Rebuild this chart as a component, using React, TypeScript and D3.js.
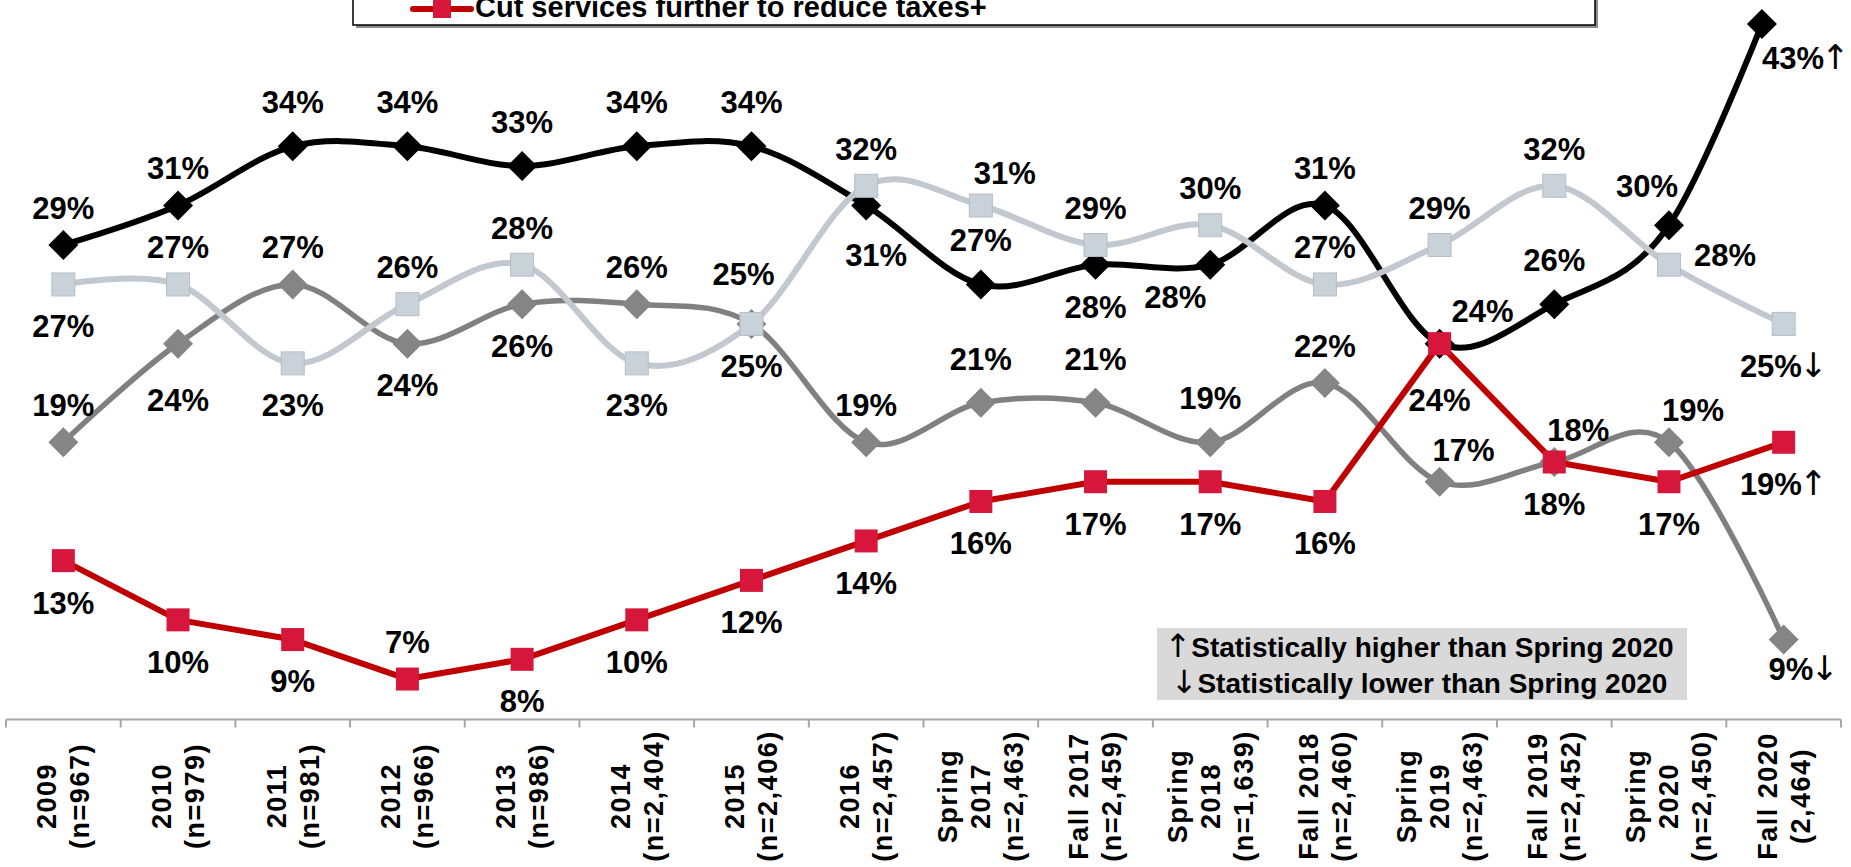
import * as d3 from "d3";

// categories (x axis, one entry per survey wave, lines split with \n)
const categories = [
  "2009\n(n=967)",
  "2010\n(n=979)",
  "2011\n(n=981)",
  "2012\n(n=966)",
  "2013\n(n=986)",
  "2014\n(n=2,404)",
  "2015\n(n=2,406)",
  "2016\n(n=2,457)",
  "Spring\n2017\n(n=2,463)",
  "Fall 2017\n(n=2,459)",
  "Spring\n2018\n(n=1,639)",
  "Fall 2018\n(n=2,460)",
  "Spring\n2019\n(n=2,463)",
  "Fall 2019\n(n=2,452)",
  "Spring\n2020\n(n=2,450)",
  "Fall 2020\n(2,464)",
];

// series values (%)
const blackValues = [29, 31, 34, 34, 33, 34, 34, 31, 27, 28, 28, 31, 24, 26, 30, 43];
const lightValues = [27, 27, 23, 26, 28, 23, 25, 32, 31, 29, 30, 27, 29, 32, 28, 25];
const grayValues = [19, 24, 27, 24, 26, 26, 25, 19, 21, 21, 19, 22, 17, 18, 19, 9];
const cutValues = [13, 10, 9, 7, 8, 10, 12, 14, 16, 17, 17, 16, 24, 18, 17, 19];

// significance vs Spring 2020 (last wave only)
const blackSig = "↑";
const lightSig = "↓";
const graySig = "↓";
const cutSig = "↑";

const legendLabel = "Cut services further to reduce taxes+";
const noteArrows = ["↑", "↓"];
const noteLines = ["Statistically higher than Spring 2020", "Statistically lower than Spring 2020"];

// label placement codes
const blackPos = ["t", "t", "T", "T", "T", "T", "T", "br", "T", "b", "bl", "t", "TR", "T", "tl", "edge"];
const lightPos = ["b", "t", "b", "t", "t", "b", "lt", "t", "tr", "t", "t", "t", "t", "t", "r", "b"];
const grayPos = ["t", "B", "t", "b", "b", "t", "b", "t", "T", "T", "T", "t", "tr", "tr", "tr", "rb"];
const cutPos = ["b", "b", "b", "t", "b", "b", "b", "b", "b", "b", "b", "b", "B", "b", "b", "b"];

const offsets: Record<string, [number, number]> = {
  t: [0, -37],
  T: [0, -44],
  b: [0, 42],
  B: [0, 57],
  tr: [24, -32],
  TR: [43, -32],
  tl: [-22, -39],
  bl: [-35, 32],
  br: [10, 50],
  r: [56, -10],
  rb: [20, 30],
  lt: [-8, -50],
};

const W = 1851;
const H = 867;
const FONT = "'Liberation Sans', Arial, sans-serif";
const ARROW_FONT = "'DejaVu Sans', sans-serif";

const x = d3.scaleBand<string>().domain(categories).range([6, 1841]).padding(0);
const y = d3.scaleLinear().domain([5, 40.2]).range([718.5, 24]);
const cx = (i: number) => (x(categories[i]) ?? 0) + x.bandwidth() / 2;

// cardinal (tension 0) control points, same as d3.curveCardinal, for the segment i-1 -> i
const K = 1 / 6;
function crossTop(pts: [number, number][], i: number, yTop: number): [number, number] {
  const a = pts[i - 1];
  const b = pts[i];
  const prev = i - 2 >= 0 ? pts[i - 2] : b;
  const next = i + 1 < pts.length ? pts[i + 1] : a;
  const c1 = [a[0] + K * (b[0] - prev[0]), a[1] + K * (b[1] - prev[1])];
  const c2 = [b[0] + K * (a[0] - next[0]), b[1] + K * (a[1] - next[1])];
  const bez = (t: number, k: number) => {
    const u = 1 - t;
    return u * u * u * a[k] + 3 * u * u * t * c1[k] + 3 * u * t * t * c2[k] + t * t * t * b[k];
  };
  let lo = 0;
  let hi = 1;
  for (let n = 0; n < 40; n++) {
    const mid = (lo + hi) / 2;
    if (bez(mid, 1) > yTop) lo = mid;
    else hi = mid;
  }
  return [bez(lo, 0), yTop];
}

type Series = {
  key: string;
  values: number[];
  sig: string;
  pos: string[];
  line: string;
  width: number;
  marker: "diamond" | "square";
  fill: string;
  stroke?: string;
  smooth: boolean;
};

const series: Series[] = [
  { key: "gray", values: grayValues, sig: graySig, pos: grayPos, line: "#808080", width: 5.5, marker: "diamond", fill: "#858585", smooth: true },
  { key: "black", values: blackValues, sig: blackSig, pos: blackPos, line: "#000000", width: 6, marker: "diamond", fill: "#000000", smooth: true },
  { key: "light", values: lightValues, sig: lightSig, pos: lightPos, line: "#C1C8CF", width: 6, marker: "square", fill: "#C9D1D9", stroke: "#B5BEC7", smooth: true },
  { key: "cut", values: cutValues, sig: cutSig, pos: cutPos, line: "#C00000", width: 6, marker: "square", fill: "#D7163B", smooth: false },
];

const diamond = (r: number) => `M0,${-r}L${r},0L0,${r}L${-r},0Z`;

const Marker = ({ s, px, py }: { s: Series; px: number; py: number }) =>
  s.marker === "diamond" ? (
    <path d={diamond(15)} transform={`translate(${px},${py})`} fill={s.fill} />
  ) : (
    <rect x={px - 11.5} y={py - 11.5} width={23} height={23} fill={s.fill} stroke={s.stroke ?? "none"} strokeWidth={1} />
  );

const Arrow = ({ a, size }: { a: string; size: number }) => (
  <tspan fontFamily={ARROW_FONT} fontWeight="normal" fontSize={size} dx={-3}>
    {a}
  </tspan>
);

const App = () => {
  const yTop = y.range()[1];
  const axisY = y.range()[0];
  const axisSize = 27;
  const axisSpacing = 1.5;
  const axisLabelMid = 796;

  return (
    <svg
      width={W}
      height={H}
      viewBox={`0 0 ${W} ${H}`}
      style={{ position: "absolute", left: 0, top: 0, background: "#fff" }}
      fontFamily={FONT}
    >
      <defs>
        <clipPath id="plotClip">
          <rect x={0} y={yTop} width={W} height={axisY - yTop + 40} />
        </clipPath>
      </defs>

      {/* legend (only the last entry is on the picture) */}
      <rect x={356} y={-20} width={1242} height={48} fill="#8c8c8c" />
      <rect x={353} y={-23} width={1242} height={48} fill="#fff" stroke="#000" strokeWidth={1.5} />
      <line x1={413} x2={471} y1={9} y2={9} stroke="#C00000" strokeWidth={6} strokeLinecap="round" />
      <rect x={433} y={0} width={18} height={18} fill="#D7163B" />
      <text x={475} y={17} fontSize={29} fontWeight="bold">
        {legendLabel}
      </text>

      {/* x axis */}
      <line x1={x.range()[0]} x2={x.range()[1]} y1={axisY + 1} y2={axisY + 1} stroke="#A6A6A6" strokeWidth={2} />
      {[...categories.map((c) => x(c) ?? 0), x.range()[1]].map((tx, i) => (
        <line key={i} x1={tx} x2={tx} y1={axisY + 1} y2={axisY + 9} stroke="#A6A6A6" strokeWidth={2} />
      ))}
      {categories.map((c, i) => {
        const lines = c.split("\n");
        return (
          <g key={c} transform={`translate(${cx(i)},${axisLabelMid}) rotate(-90)`}>
            {lines.map((l, j) => (
              <text
                key={j}
                x={0}
                y={(j - (lines.length - 1) / 2) * 33}
                dy="0.35em"
                textAnchor="middle"
                fontSize={axisSize}
                fontWeight="bold"
                letterSpacing={axisSpacing}
              >
                {l}
              </text>
            ))}
          </g>
        );
      })}

      {/* series */}
      {series.map((s) => {
        const pts: [number, number][] = s.values.map((v, i) => [cx(i), y(v)]);
        const gen = d3.line().curve(s.smooth ? d3.curveCardinal.tension(0) : d3.curveLinear);
        const markerPts = pts.map((p, i) => (s.values[i] > y.domain()[1] ? crossTop(pts, i, yTop) : p));
        return (
          <g key={s.key}>
            <path d={gen(pts) ?? ""} fill="none" stroke={s.line} strokeWidth={s.width} strokeLinejoin="round" clipPath="url(#plotClip)" />
            {markerPts.map((p, i) => (
              <Marker key={i} s={s} px={p[0]} py={p[1]} />
            ))}
          </g>
        );
      })}

      {/* data labels */}
      {series.map((s) => {
        const pts: [number, number][] = s.values.map((v, i) => [cx(i), y(v)]);
        return s.values.map((v, i) => {
          const code = s.pos[i];
          const sig = i === s.values.length - 1 ? s.sig : "";
          if (code === "edge") {
            const m = crossTop(pts, i, yTop);
            return (
              <text key={`${s.key}-${i}`} x={m[0]} y={m[1] + 34} dy="0.35em" fontSize={31} fontWeight="bold">
                {v}%<Arrow a={sig} size={34} />
              </text>
            );
          }
          const [dx, dy] = offsets[code];
          return (
            <text
              key={`${s.key}-${i}`}
              x={pts[i][0] + dx}
              y={pts[i][1] + dy}
              dy="0.35em"
              textAnchor="middle"
              fontSize={31}
              fontWeight="bold"
            >
              {v}%{sig && <Arrow a={sig} size={34} />}
            </text>
          );
        });
      })}

      {/* significance note */}
      <rect x={1157} y={628} width={530} height={72} fill="#D9D9D9" />
      {noteLines.map((l, i) => (
        <text key={i} x={1157 + 265} y={657 + i * 36} textAnchor="middle" fontSize={28} fontWeight="bold">
          <Arrow a={noteArrows[i]} size={32} />
          {l}
        </text>
      ))}
    </svg>
  );
};

export default App;
